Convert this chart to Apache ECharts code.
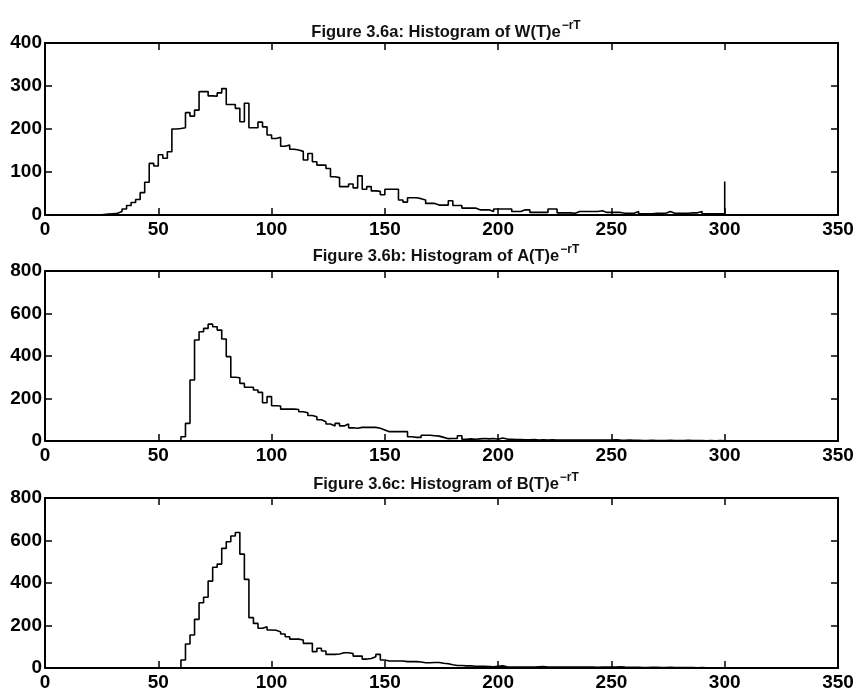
<!DOCTYPE html>
<html>
<head>
<meta charset="utf-8">
<script src="https://cdn.jsdelivr.net/npm/echarts@6/dist/echarts.min.js"></script>
<style>
html,body{margin:0;padding:0;background:#fff;}
#chart{width:858px;height:696px;}
</style>
</head>
<body>
<div id="chart"></div>
<script>
// Histogram bins: left edges start at binStart with width binWidth
var binStart = 0;
var binWidth = 2;
var rangeEnd = 300;

// Figure 3.6a: W(T)e^{-rT}
var countsW = [
  0,0,0,0,0,0,0,0,0,0,0,0,
  1,2,3,4,8,14,22,29,36,52,76,120,114,
  140,132,147,200,201,203,238,230,244,287,287,277,276,284,294,
  257,257,248,217,260,203,203,216,205,186,
  178,181,160,163,153,151,148,128,143,124,
  116,116,108,89,87,66,66,72,63,91,
  60,66,56,55,47,60,60,60,35,30,
  40,40,38,35,27,27,23,23,23,33,
  22,22,16,16,16,12,12,12,8,14,
  14,14,14,8,8,12,12,6,6,6,
  6,14,14,5,5,5,4,8,8,8,
  8,8,10,6,6,6,6,4,4,4,
  8,3,3,3,4,4,4,8,4,4,
  4,4,5,5,8,3,3,3,3,3
];
var spikeW = 78; // values piled at the 300 cap

// Figure 3.6b: A(T)e^{-rT}
var countsA = [
  0,0,0,0,0,0,0,0,0,0,0,0,0,0,0,0,0,0,0,0,0,0,0,0,0,0,0,0,0,0,
  20,83,287,475,514,530,550,538,522,480,
  397,300,298,271,253,253,240,229,180,209,
  166,165,150,150,150,148,138,133,120,114,
  100,91,80,71,83,71,80,62,60,64,
  64,64,64,60,52,44,44,44,44,44,
  20,17,17,27,27,25,23,17,11,12,
  12,25,8,10,8,10,12,10,12,8,
  14,9,8,7,7,6,6,7,5,6,
  5,6,5,5,4,5,4,5,4,4,
  4,5,4,4,5,6,4,3,4,3,
  3,2,2,3,2,2,2,3,2,2,
  2,3,2,2,2,1,2,1,2,1
];

// Figure 3.6c: B(T)e^{-rT}
var countsB = [
  0,0,0,0,0,0,0,0,0,0,0,0,0,0,0,0,0,0,0,0,0,0,0,0,0,0,0,0,0,0,
  38,113,155,229,307,333,409,474,489,563,
  594,621,638,536,417,237,210,187,194,179,
  178,170,160,147,136,136,132,116,116,77,
  93,80,64,64,66,72,72,68,56,56,
  42,45,53,64,38,33,33,33,33,30,
  30,30,28,25,25,26,26,22,20,15,
  12,12,10,10,8,8,8,7,6,8,
  10,6,5,5,5,4,5,5,6,7,
  5,4,4,4,5,4,4,4,4,4,
  4,3,4,4,5,5,6,4,3,3,
  3,2,2,3,3,2,2,3,2,2,
  2,2,2,1,2,1,1,1,1,1
];

var titles = ['Figure 3.6a: Histogram of W(T)e', 'Figure 3.6b: Histogram of A(T)e', 'Figure 3.6c: Histogram of B(T)e'];
var superText = '\u2212rT';
var xTicks = {min: 0, max: 350, interval: 50};
var yMaxes = [400, 800, 800];
var yIntervals = [100, 200, 200];

function stairs(counts, spike) {
  var pts = [];
  for (var i = 0; i < counts.length; i++) {
    pts.push([binStart + i * binWidth, counts[i]]);
  }
  if (spike != null) {
    pts.push([rangeEnd, spike]);
  }
  pts.push([rangeEnd, 0]);
  return pts;
}

var FONT = 'Liberation Sans, Arial, Helvetica, sans-serif';
var grids = [
  {left: 45, right: 20, top: 43, height: 172},
  {left: 45, right: 20, top: 271, height: 170},
  {left: 45, right: 20, top: 498, height: 170}
];
var titleTops = [15, 239, 467];

var option = {
  backgroundColor: '#fff',
  animation: false,
  title: [],
  grid: grids,
  xAxis: [],
  yAxis: [],
  series: []
};

var allCounts = [countsW, countsA, countsB];
var spikes = [spikeW, null, null];

for (var g = 0; g < 3; g++) {
  option.title.push({
    text: '{n|' + titles[g] + '}{s|' + superText + '}',
    left: 441, top: titleTops[g], textAlign: 'center',
    textStyle: {
      rich: {
        n: {fontFamily: FONT, fontSize: 16.5, color: '#111', fontWeight: 'bold', lineHeight: 21, verticalAlign: 'bottom'},
        s: {fontFamily: FONT, fontSize: 12, color: '#111', fontWeight: 'bold', lineHeight: 21, verticalAlign: 'bottom', padding: [0, 0, 9, 1]}
      }
    }
  });
  var axisLine = {show: true, onZero: false, lineStyle: {color: '#000', width: 2}};
  var tick = {show: true, inside: true, length: 7, lineStyle: {color: '#000', width: 1.5}};
  option.xAxis.push({
    type: 'value', gridIndex: g, position: 'bottom',
    min: xTicks.min, max: xTicks.max, interval: xTicks.interval,
    axisLine: axisLine, axisTick: tick, splitLine: {show: false},
    axisLabel: {color: '#000', fontFamily: FONT, fontSize: 19, fontWeight: 'bold', margin: 5}
  });
  option.xAxis.push({
    type: 'value', gridIndex: g, position: 'top',
    min: xTicks.min, max: xTicks.max, interval: xTicks.interval,
    axisLine: axisLine, axisTick: tick, splitLine: {show: false},
    axisLabel: {show: false}
  });
  option.yAxis.push({
    type: 'value', gridIndex: g, position: 'left',
    min: 0, max: yMaxes[g], interval: yIntervals[g],
    axisLine: axisLine, axisTick: tick, splitLine: {show: false},
    axisLabel: {color: '#000', fontFamily: FONT, fontSize: 19, fontWeight: 'bold', margin: 3}
  });
  option.yAxis.push({
    type: 'value', gridIndex: g, position: 'right',
    min: 0, max: yMaxes[g], interval: yIntervals[g],
    axisLine: axisLine, axisTick: tick, splitLine: {show: false},
    axisLabel: {show: false}
  });
  option.series.push({
    type: 'line', xAxisIndex: g * 2, yAxisIndex: g * 2,
    step: 'end', showSymbol: false, symbol: 'none',
    lineStyle: {color: '#000', width: 1.6},
    data: stairs(allCounts[g], spikes[g]),
    z: 1
  });
}

var chart = echarts.init(document.getElementById('chart'), null, {renderer: 'canvas'});
chart.setOption(option);
</script>
</body>
</html>
